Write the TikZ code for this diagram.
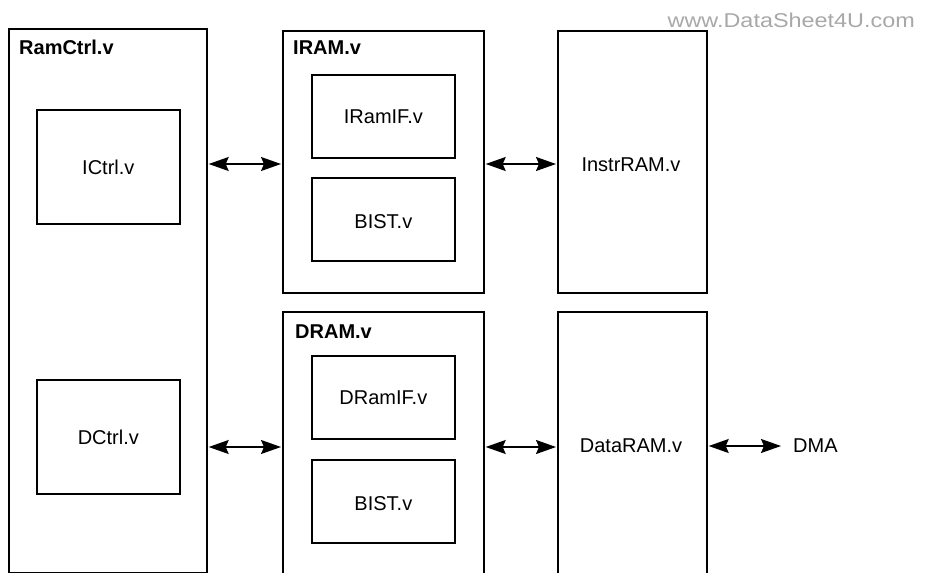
\documentclass[tikz,border=0pt]{standalone}
\usepackage{fontspec}
\setmainfont{Liberation Sans}
\usetikzlibrary{arrows.meta}
\definecolor{wmgray}{RGB}{168,168,168}
\tikzset{
  box/.style={draw=black, line width=1.7pt, rectangle, inner sep=0pt, anchor=north west, fill=none},
  lbl/.style={inner sep=0pt, font=\fontsize{20}{24}\selectfont},
  ttl/.style={inner sep=0pt, anchor=base west, font=\fontsize{20}{24}\selectfont\bfseries},
  dbl/.style={line width=1.6pt, {Stealth[length=20pt,width=14pt,inset=3pt]}-{Stealth[length=20pt,width=14pt,inset=3pt]}}
}
\begin{document}
\begin{tikzpicture}[x=1pt,y=-1pt]
\useasboundingbox (0,0) rectangle (927,573);
\clip (0,0) rectangle (927,573);
% outer boxes
\node[box, minimum width=198pt, minimum height=544pt] (ramctrl) at (8,28) {};
\node[box, minimum width=201pt, minimum height=262pt] (iram) at (282,30) {};
\node[box, minimum width=201pt, minimum height=275pt] (dram) at (282,311) {};
\node[box, minimum width=149pt, minimum height=262pt] (instrram) at (557,30) {};
\node[box, minimum width=149pt, minimum height=275pt] (dataram) at (557,311) {};
% inner boxes
\node[box, minimum width=143pt, minimum height=114pt] (ictrl) at (36,109) {};
\node[box, minimum width=143pt, minimum height=114pt] (dctrl) at (36,379) {};
\node[box, minimum width=143pt, minimum height=83pt] (iramif) at (311,74) {};
\node[box, minimum width=143pt, minimum height=83pt] (bist1) at (311,177) {};
\node[box, minimum width=143pt, minimum height=83pt] (dramif) at (311,355) {};
\node[box, minimum width=143pt, minimum height=83pt] (bist2) at (311,459) {};
% titles
\node[ttl] (tramctrl) at (19,54) {RamCtrl.v};
\node[ttl] (tiram) at (293,54) {IRAM.v};
\node[ttl] (tdram) at (295,338) {DRAM.v};
% inner labels
\node[lbl] (lictrl) at (ictrl.center) {ICtrl.v};
\node[lbl] (ldctrl) at (dctrl.center) {DCtrl.v};
\node[lbl] (liramif) at (iramif.center) {IRamIF.v};
\node[lbl] (lbist1) at ([yshift=-2pt]bist1.center) {BIST.v};
\node[lbl] (ldramif) at (dramif.center) {DRamIF.v};
\node[lbl] (lbist2) at ([yshift=-2pt]bist2.center) {BIST.v};
\node[lbl] (linstr) at (631,165) {InstrRAM.v};
\node[lbl] (ldata) at (631,446) {DataRAM.v};
\node[lbl, anchor=west] (dma) at (793,446) {DMA};
% arrow levels
\coordinate (ya) at (0,164);
\coordinate (yb) at (0,447);
\coordinate (dmaend) at (781,446);
\draw[dbl] ([xshift=1pt]ramctrl.east |- ya) -- ([xshift=-1pt]iram.west |- ya);
\draw[dbl] ([xshift=1pt]iram.east |- ya) -- ([xshift=-1pt]instrram.west |- ya);
\draw[dbl] ([xshift=1pt]ramctrl.east |- yb) -- ([xshift=-1pt]dram.west |- yb);
\draw[dbl] ([xshift=1pt]dram.east |- yb) -- ([xshift=-1pt]dataram.west |- yb);
\draw[dbl] ([xshift=1pt]dataram.east |- dmaend) -- (dmaend);
% watermark
\node[inner sep=0pt, anchor=base east, text=wmgray, font=\fontsize{20}{24}\selectfont] (wm) at (915,27) {\scalebox{1.17}[1]{www.DataSheet4U.com}};
\end{tikzpicture}
\end{document}
